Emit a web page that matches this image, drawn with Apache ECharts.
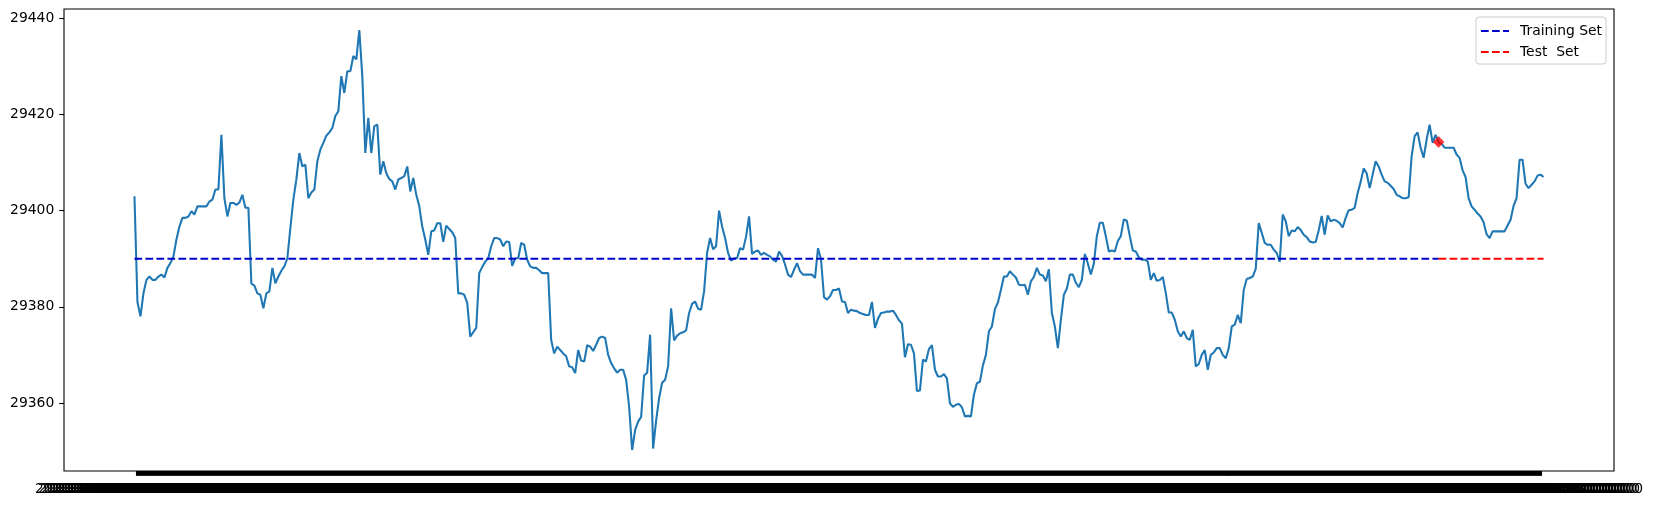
<!DOCTYPE html>
<html>
<head>
<meta charset="utf-8">
<script src="https://cdn.jsdelivr.net/npm/echarts@6/dist/echarts.min.js"></script>
<style>
  html, body { margin: 0; padding: 0; background: #ffffff; }
  #chart { width: 1655px; height: 505px; }
</style>
</head>
<body>
<div id="chart"></div>
<script>
// Price series (one value per sample index)
const prices = [
  29403.0, 29381.0, 29378.0, 29382.8, 29385.6, 29386.3, 29385.6, 29385.6, 29386.3, 29386.7,
  29386.1, 29388.1, 29389.1, 29390.5, 29394.0, 29396.7, 29398.5, 29398.5, 29398.8, 29399.9,
  29399.2, 29400.9, 29400.9, 29400.9, 29400.9, 29401.9, 29402.3, 29404.4, 29404.4, 29415.8,
  29402.6, 29398.8, 29401.6, 29401.6, 29401.2, 29401.7, 29403.3, 29400.6, 29400.6, 29384.8,
  29384.4, 29382.8, 29382.5, 29379.7, 29382.8, 29383.2, 29388.1, 29384.9, 29386.3, 29387.5,
  29388.4, 29390.1, 29396.4, 29402.3, 29406.5, 29412.0, 29409.2, 29409.6, 29402.6, 29403.8,
  29404.4, 29410.3, 29412.7, 29414.1, 29415.6, 29416.3, 29417.2, 29419.7, 29420.7, 29428.0,
  29424.5, 29429.0, 29429.0, 29432.2, 29431.5, 29437.6, 29428.0, 29412.0, 29419.3, 29412.0,
  29417.6, 29417.9, 29407.5, 29410.3, 29407.8, 29406.6, 29406.1, 29404.4, 29406.5, 29406.8,
  29407.2, 29409.2, 29404.0, 29406.8, 29403.3, 29400.9, 29396.7, 29394.0, 29390.8, 29395.7,
  29395.9, 29397.4, 29397.4, 29393.5, 29396.9, 29396.2, 29395.5, 29394.3, 29382.8, 29382.8,
  29382.5, 29380.8, 29373.8, 29374.7, 29375.6, 29387.0, 29388.3, 29389.4, 29390.1, 29392.6,
  29394.3, 29394.3, 29394.0, 29392.6, 29393.6, 29393.5, 29388.5, 29390.1, 29390.1, 29393.3,
  29392.9, 29389.8, 29388.4, 29388.1, 29388.1, 29387.6, 29387.0, 29387.0, 29387.0, 29373.1,
  29370.3, 29371.7, 29371.0, 29370.3, 29369.7, 29367.6, 29367.4, 29366.2, 29371.0, 29368.8,
  29368.6, 29372.0, 29371.7, 29370.8, 29372.1, 29373.5, 29373.8, 29373.5, 29370.0, 29368.3,
  29367.2, 29366.3, 29366.9, 29366.9, 29364.8, 29359.2, 29350.2, 29354.4, 29356.1, 29357.1,
  29365.7, 29366.3, 29374.2, 29350.5, 29356.3, 29361.0, 29364.2, 29364.8, 29367.6, 29379.7,
  29373.0, 29374.0, 29374.5, 29374.7, 29375.1, 29378.7, 29380.6, 29381.1, 29379.6, 29379.4,
  29383.2, 29391.2, 29394.3, 29392.0, 29392.6, 29400.0, 29396.7, 29394.3, 29391.2, 29389.6,
  29390.1, 29390.1, 29392.2, 29391.9, 29394.6, 29398.8, 29391.0, 29391.5, 29391.7, 29390.8,
  29391.2, 29390.8, 29390.5, 29389.8, 29389.4, 29391.5, 29390.6, 29388.8, 29386.7, 29386.2,
  29387.7, 29389.1, 29387.4, 29386.7, 29386.7, 29386.7, 29386.7, 29386.0, 29392.2, 29389.9,
  29382.0, 29381.5, 29382.2, 29383.5, 29383.5, 29383.8, 29381.1, 29381.0, 29378.7, 29379.4,
  29379.2, 29379.1, 29378.7, 29378.5, 29378.3, 29378.3, 29381.0, 29375.6, 29377.5, 29378.7,
  29378.8, 29379.0, 29379.0, 29379.2, 29378.3, 29377.2, 29376.5, 29369.5, 29372.2, 29372.1,
  29370.3, 29362.5, 29362.6, 29369.0, 29368.6, 29371.2, 29372.0, 29366.9, 29365.5, 29365.5,
  29366.0, 29365.1, 29359.9, 29359.2, 29359.6, 29359.8, 29359.1, 29357.2, 29357.3, 29357.2,
  29361.7, 29364.1, 29364.4, 29367.8, 29370.0, 29374.9, 29375.9, 29379.5, 29380.9, 29383.5,
  29386.3, 29386.3, 29387.4, 29386.7, 29386.1, 29384.6, 29384.5, 29384.6, 29382.5, 29385.3,
  29386.2, 29388.1, 29386.7, 29386.5, 29385.3, 29387.8, 29378.7, 29375.9, 29371.4, 29377.3,
  29382.5, 29383.8, 29386.7, 29386.7, 29385.0, 29384.1, 29385.6, 29391.0, 29389.0, 29386.7,
  29389.0, 29394.7, 29397.5, 29397.5, 29394.7, 29391.5, 29391.7, 29391.5, 29393.7, 29394.7,
  29398.2, 29397.9, 29394.7, 29391.7, 29391.5, 29390.3, 29389.8, 29389.8, 29389.4, 29385.6,
  29387.0, 29385.4, 29385.6, 29386.2, 29382.9, 29378.8, 29378.8, 29377.3, 29374.9, 29373.8,
  29374.9, 29373.5, 29373.1, 29375.2, 29367.6, 29368.1, 29370.0, 29371.0, 29366.9, 29370.0,
  29370.5, 29371.4, 29371.4, 29370.0, 29369.3, 29371.4, 29375.9, 29376.3, 29378.3, 29376.6,
  29383.5, 29385.8, 29386.0, 29386.3, 29387.9, 29397.4, 29395.4, 29393.3, 29392.9, 29392.9,
  29391.9, 29391.2, 29389.4, 29399.2, 29397.8, 29394.7, 29395.9, 29395.7, 29396.6, 29396.0,
  29395.0, 29394.5, 29393.6, 29393.4, 29393.5, 29395.9, 29398.9, 29395.0, 29399.0, 29397.8,
  29398.1, 29397.9, 29397.4, 29396.5, 29398.5, 29400.1, 29400.2, 29400.6, 29403.7, 29406.0,
  29408.8, 29407.8, 29404.7, 29407.5, 29410.3, 29409.2, 29407.5, 29406.1, 29405.8, 29405.2,
  29404.5, 29403.3, 29403.0, 29402.6, 29402.6, 29402.8, 29411.3, 29415.5, 29416.3, 29413.1,
  29411.0, 29414.8, 29417.9, 29414.1, 29415.8, 29414.2, 29413.9, 29413.1, 29413.1, 29413.1,
  29413.1, 29411.7, 29411.0, 29408.4, 29407.0, 29402.6, 29400.9, 29400.2, 29399.4, 29398.8,
  29397.6, 29395.1, 29394.3, 29395.7, 29395.7, 29395.7, 29395.7, 29395.7, 29396.9, 29398.1,
  29401.0, 29402.6, 29410.6, 29410.6, 29405.6, 29404.7, 29405.4, 29406.1, 29407.3, 29407.5,
  29407.0
];

// Horizontal reference level and train/test split
const baseline = 29390;
const splitIndex = 435;
// Predicted point(s) shown as red diamonds
const predIndex = [435];
const predValue = [29414.3];

// Y tick labels
const yTicks = [29360, 29380, 29400, 29420, 29440];

// Legend names
const trainName = 'Training Set';
const testName = 'Test  Set';

// Category (timestamp) tick labels, one per sample
const timeLabels = [];
(function () {
  const t0 = Date.UTC(2021, 9, 4, 9, 15, 0);
  for (let i = 0; i < prices.length; i++) {
    const s = new Date(t0 + i * 7000).toISOString();
    timeLabels.push(s.slice(0, 10) + ' ' + s.slice(11, 19) + '.000000');
  }
})();

const N = prices.length;
const idx = prices.map((_, i) => i);
const dMin = Math.min.apply(null, prices);
const dMax = Math.max.apply(null, prices);
const yPad = (dMax - dMin) * 0.05;
const xPad = (N - 1) * 0.05;

const FONT = 'DejaVu Sans';
const FS = 13.9;

const chart = echarts.init(document.getElementById('chart'), null, { renderer: 'canvas' });
chart.setOption({
  animation: false,
  backgroundColor: '#ffffff',
  textStyle: { fontFamily: FONT },
  grid: {
    left: 64, right: 41, top: 9, bottom: 34,
    show: true, borderColor: '#000000', borderWidth: 1.1, backgroundColor: '#ffffff'
  },
  legend: {
    data: [trainName, testName],
    orient: 'vertical',
    left: 1476, top: 17,
    padding: [7, 4, 5, 4],
    itemWidth: 28, itemHeight: 14, itemGap: 7,
    backgroundColor: 'rgba(255,255,255,0.8)',
    borderColor: '#cccccc', borderWidth: 1, borderRadius: 3,
    itemStyle: { opacity: 0 },
    textStyle: { fontFamily: FONT, fontSize: FS, color: '#000000', padding: [0, 0, 0, 6] }
  },
  xAxis: {
    type: 'value',
    min: -xPad, max: (N - 1) + xPad,
    axisLine: { show: false, onZero: false },
    splitLine: { show: false },
    axisTick: { show: true, customValues: idx, length: 4.86, lineStyle: { color: '#000000', width: 3.1 } },
    axisLabel: {
      show: true, customValues: idx,
      formatter: function (v) { return timeLabels[Math.round(v)] || ''; },
      fontFamily: FONT, fontSize: FS, color: '#000000', margin: 11.5
    }
  },
  yAxis: {
    type: 'value',
    min: dMin - yPad, max: dMax + yPad,
    axisLine: { show: false, onZero: false },
    splitLine: { show: false },
    axisTick: { show: true, customValues: yTicks, length: 4.86, lineStyle: { color: '#000000', width: 1.1 } },
    axisLabel: {
      customValues: yTicks,
      formatter: function (v) { return String(Math.round(v)); },
      fontFamily: FONT, fontSize: FS, color: '#000000', margin: 9.7
    }
  },
  series: [
    {
      name: 'price', type: 'line', z: 2,
      data: prices.map((v, i) => [i, v]),
      showSymbol: false, symbol: 'none',
      lineStyle: { color: '#1f77b4', width: 2.08 },
      itemStyle: { color: '#1f77b4' }
    },
    {
      name: trainName, type: 'line', z: 3,
      data: [[0, baseline], [splitIndex, baseline]],
      symbol: 'none', showSymbol: false,
      lineStyle: { color: '#0000cd', width: 2.08, type: [7.7, 3.3] },
      itemStyle: { color: '#0000cd' }
    },
    {
      name: testName, type: 'line', z: 3,
      data: [[splitIndex, baseline], [N - 1, baseline]],
      symbol: 'none', showSymbol: false,
      lineStyle: { color: '#ff0000', width: 2.08, type: [7.7, 3.3] },
      itemStyle: { color: '#ff0000' }
    },
    {
      name: 'pred', type: 'scatter', z: 4,
      data: predIndex.map((p, k) => [p, predValue[k]]),
      symbol: 'diamond', symbolSize: 11.5,
      itemStyle: { color: '#ff0000' }
    }
  ]
});
</script>
</body>
</html>
